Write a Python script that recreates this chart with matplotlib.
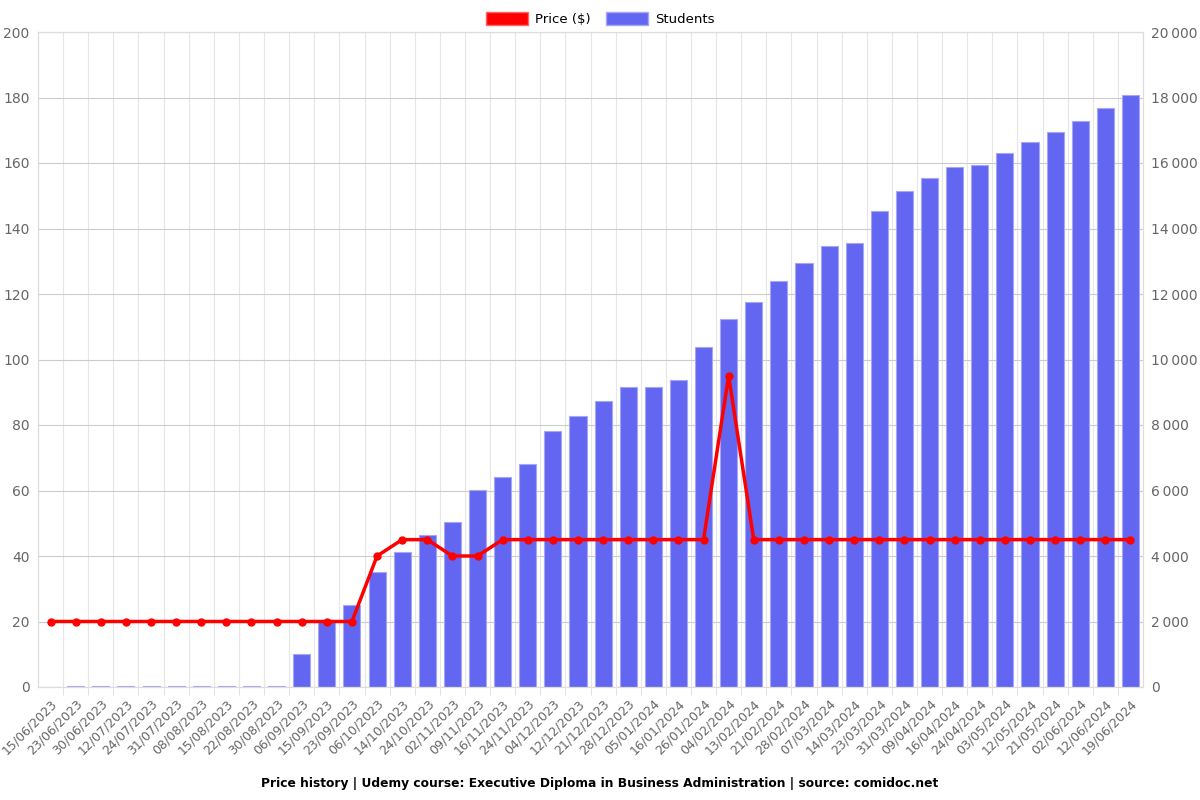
import numpy as np
import matplotlib.pyplot as plt
import matplotlib.transforms as mtrans
from matplotlib.patches import Patch
from matplotlib.ticker import FuncFormatter

# Datos
dates = ['15/06/2023', '23/06/2023', '30/06/2023', '12/07/2023', '24/07/2023', '31/07/2023',
         '08/08/2023', '15/08/2023', '22/08/2023', '30/08/2023', '06/09/2023', '15/09/2023',
         '23/09/2023', '06/10/2023', '14/10/2023', '24/10/2023', '02/11/2023', '09/11/2023',
         '16/11/2023', '24/11/2023', '04/12/2023', '12/12/2023', '21/12/2023', '28/12/2023',
         '05/01/2024', '16/01/2024', '26/01/2024', '04/02/2024', '13/02/2024', '21/02/2024',
         '28/02/2024', '07/03/2024', '14/03/2024', '23/03/2024', '31/03/2024', '09/04/2024',
         '16/04/2024', '24/04/2024', '03/05/2024', '12/05/2024', '21/05/2024', '02/06/2024',
         '12/06/2024', '19/06/2024']

price = [20, 20, 20, 20, 20, 20, 20, 20, 20, 20, 20, 20, 20,
         40, 45, 45, 40, 40, 45, 45, 45, 45, 45, 45, 45, 45, 45,
         95, 45, 45, 45, 45, 45, 45, 45, 45, 45, 45, 45, 45, 45, 45, 45, 45]

students = [0, 25, 25, 25, 25, 25, 25, 25, 25, 25, 1010, 2010, 2510,
            3510, 4120, 4640, 5040, 6020, 6420, 6810, 7820, 8280, 8740, 9160,
            9170, 9380, 10390, 11240, 11760, 12400, 12960, 13470, 13560, 14530,
            15150, 15540, 15880, 15940, 16300, 16640, 16950, 17290, 17680, 18080]

x = np.arange(len(dates))
gray = '#666666'
gridc = '#dddddd'

fig = plt.figure(figsize=(12, 8), dpi=100)
ax = fig.add_axes([0.0317, 0.14125, 0.9208, 0.81875])
ax2 = ax.twinx()

# Barras de estudiantes (eje derecho)
ax2.bar(x, students, width=0.68, color='#6366f1', edgecolor='#a5a7f5', linewidth=0.8, zorder=2)
ax2.set_ylim(0, 20000)
ax2.set_yticks(np.arange(0, 20001, 2000))
ax2.yaxis.set_major_formatter(FuncFormatter(lambda v, p: f'{int(v):,}'.replace(',', '\u2009')))

# Linea de precio (eje izquierdo)
ax.plot(x, price, color='#ff0000', linewidth=2.5, marker='o', markersize=5, zorder=5)
ax.set_ylim(0, 200)
ax.set_yticks(np.arange(0, 201, 20))
ax.set_xlim(-0.5, len(dates) - 0.5)

ax.set_zorder(2)
ax.patch.set_visible(False)
ax2.set_zorder(1)

# Rejilla
ax.set_xticks(x)
ax.set_xticklabels(dates, rotation=45, ha='right', rotation_mode='anchor', fontsize=9, color=gray)
offset = mtrans.ScaledTranslation(6 / 72, 0, fig.dpi_scale_trans)
for lbl in ax.get_xticklabels():
    lbl.set_transform(lbl.get_transform() + offset)
ax.set_xticks(x[:-1] + 0.5, minor=True)
ax.tick_params(axis='x', which='major', length=0, pad=7)
ax.tick_params(axis='x', which='minor', length=6, color=gridc)
for xi in np.arange(-0.5, len(dates), 1.0):
    ax2.axvline(xi, color='#e6e6e6', linewidth=0.8, zorder=0)
for yv in np.arange(0, 201, 20):
    ax2.axhline(yv * 100, color='#cccccc', linewidth=0.8, zorder=0)

ax.tick_params(axis='y', length=0, labelsize=10, labelcolor=gray, pad=6)
ax2.tick_params(axis='y', length=0, labelsize=10, labelcolor=gray, pad=6)
for a in (ax, ax2):
    for s in a.spines.values():
        s.set_color(gridc)

# Leyenda y titulo
handles = [Patch(facecolor='#ff0000', edgecolor='#ff6666', label='Price ($)'),
           Patch(facecolor='#6366f1', edgecolor='#a5a7f5', label='Students')]
fig.legend(handles=handles, loc='upper center', bbox_to_anchor=(0.5, 1.0), ncol=2, frameon=False,
           fontsize=9.5, handlelength=3.2, handleheight=1.1, columnspacing=1.2, handletextpad=0.5)
fig.text(0.5, 0.012, 'Price history | Udemy course: Executive Diploma in Business Administration | source: comidoc.net',
         ha='center', va='bottom', fontsize=8.8, fontweight='bold')

plt.savefig('out.png', dpi=100)
